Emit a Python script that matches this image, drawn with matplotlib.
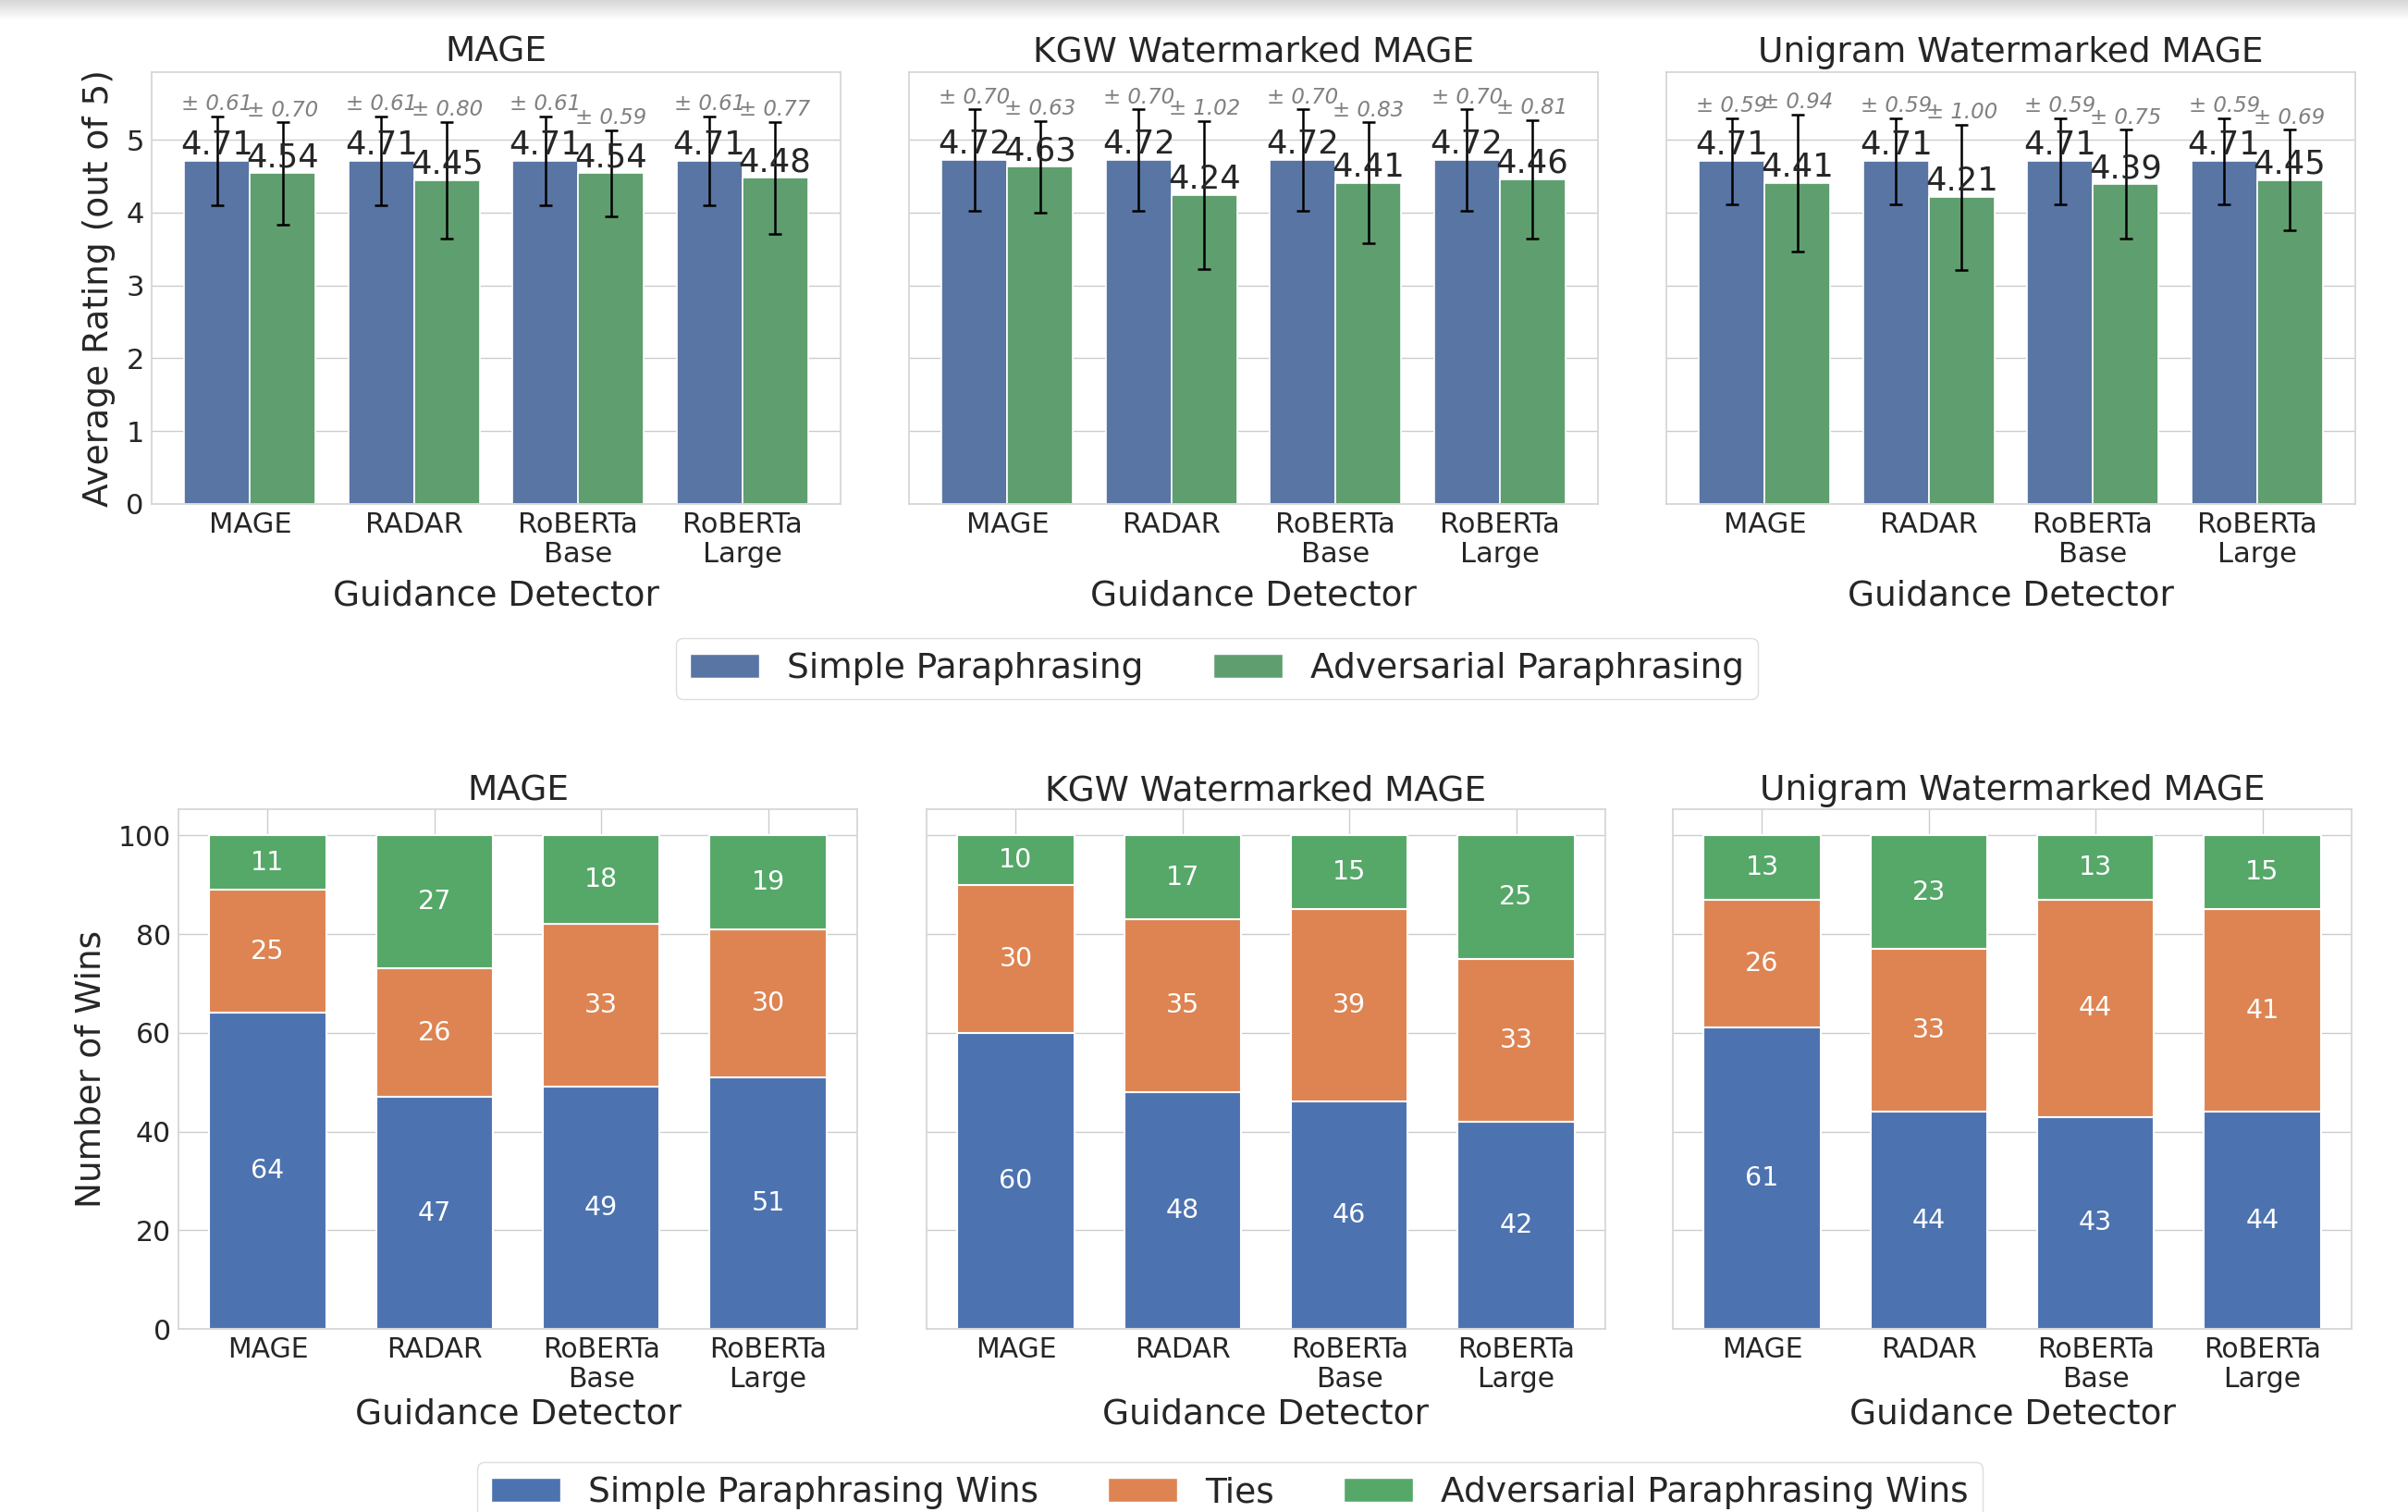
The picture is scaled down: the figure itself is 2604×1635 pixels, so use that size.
import numpy as np
import matplotlib
matplotlib.use("Agg")
import matplotlib.pyplot as plt
import seaborn as sns
from matplotlib.patches import Patch

sns.set_theme(style="whitegrid")
plt.rcParams['font.family'] = ['DejaVu Sans']

# ---------------- data ----------------
detectors = ["MAGE", "RADAR", "RoBERTa\nBase", "RoBERTa\nLarge"]
datasets = ["MAGE", "KGW Watermarked MAGE", "Unigram Watermarked MAGE"]

simple_mean = [[4.71, 4.71, 4.71, 4.71],
               [4.72, 4.72, 4.72, 4.72],
               [4.71, 4.71, 4.71, 4.71]]
simple_std = [[0.61, 0.61, 0.61, 0.61],
              [0.70, 0.70, 0.70, 0.70],
              [0.59, 0.59, 0.59, 0.59]]
adv_mean = [[4.54, 4.45, 4.54, 4.48],
            [4.63, 4.24, 4.41, 4.46],
            [4.41, 4.21, 4.39, 4.45]]
adv_std = [[0.70, 0.80, 0.59, 0.77],
           [0.63, 1.02, 0.83, 0.81],
           [0.94, 1.00, 0.75, 0.69]]

simple_wins = [[64, 47, 49, 51],
               [60, 48, 46, 42],
               [61, 44, 43, 44]]
ties = [[25, 26, 33, 30],
        [30, 35, 39, 33],
        [26, 33, 44, 41]]
adv_wins = [[11, 27, 18, 19],
            [10, 17, 15, 25],
            [13, 23, 13, 15]]

# ---------------- style ----------------
C_SIMPLE = "#5975A4"
C_ADV = "#5F9E6E"
C_B = "#4C72B0"
C_O = "#DD8452"
C_G = "#55A868"
TXT = "#262626"

W, H = 2604, 1635
fig = plt.figure(figsize=(W / 100, H / 100), dpi=100)


def px_axes(l, r, t, b):
    return fig.add_axes([l / W, 1 - b / H, (r - l) / W, (b - t) / H])


# top shadow of screenshot
sh = fig.add_axes([0, 1 - 22 / H, 1, 22 / H])
grad = np.linspace(0.84, 1.0, 50)[:, None] * np.ones((50, 10))
sh.imshow(grad, cmap="gray", vmin=0, vmax=1, aspect="auto", extent=[0, 1, 0, 1])
sh.axis("off")

top_lefts = [164, 983, 1802]
top_w = 745
bot_lefts = [193, 1002, 1809]
bot_w = 734

x = np.arange(len(detectors))
bw = 0.4

for k in range(3):
    ax = px_axes(top_lefts[k], top_lefts[k] + top_w, 78, 545)
    ax.bar(x - bw / 2, simple_mean[k], bw, color=C_SIMPLE, edgecolor="white", linewidth=1.2,
           yerr=simple_std[k], capsize=5, error_kw=dict(ecolor="black", elinewidth=1.8, capthick=1.8))
    ax.bar(x + bw / 2, adv_mean[k], bw, color=C_ADV, edgecolor="white", linewidth=1.2,
           yerr=adv_std[k], capsize=5, error_kw=dict(ecolor="black", elinewidth=1.8, capthick=1.8))
    for xi, m, s in zip(x - bw / 2, simple_mean[k], simple_std[k]):
        ax.text(xi, m, f"{m:.2f}", ha="center", va="bottom", fontsize=25.5, color=TXT)
        ax.text(xi, m + s + 0.02, f"± {s:.2f}", ha="center", va="bottom", fontsize=16.5,
                color="gray", style="italic")
    for xi, m, s in zip(x + bw / 2, adv_mean[k], adv_std[k]):
        ax.text(xi, m, f"{m:.2f}", ha="center", va="bottom", fontsize=25.5, color=TXT)
        ax.text(xi, m + s + 0.02, f"± {s:.2f}", ha="center", va="bottom", fontsize=16.5,
                color="gray", style="italic")
    ax.set_ylim(0, 5.93)
    ax.set_xlim(-0.6, 3.6)
    ax.set_yticks([0, 1, 2, 3, 4, 5])
    ax.set_xticks(x)
    ax.set_xticklabels(detectors, fontsize=22, color=TXT, linespacing=1.1)
    ax.xaxis.grid(False)
    ax.tick_params(axis="both", length=0, pad=6, labelsize=22, colors=TXT)
    if k == 0:
        ax.set_ylabel("Average Rating (out of 5)", fontsize=27, color=TXT, labelpad=8)
    else:
        ax.set_yticklabels([])
    ax.set_xlabel("Guidance Detector", fontsize=27, color=TXT, labelpad=9)
    ax.set_title(datasets[k], fontsize=27, color=TXT, pad=8)
    for sp in ax.spines.values():
        sp.set_color("#d5d5d5")
    ax.set_axisbelow(True)

fig.legend(handles=[Patch(facecolor=C_SIMPLE, edgecolor="white", label="Simple Paraphrasing"),
                    Patch(facecolor=C_ADV, edgecolor="white", label="Adversarial Paraphrasing")],
           loc="center", bbox_to_anchor=(1316 / W, 1 - 723 / H), ncol=2, fontsize=27,
           frameon=True, edgecolor="#d5d5d5", labelcolor=TXT)

bw2 = 0.7
for k in range(3):
    ax = px_axes(bot_lefts[k], bot_lefts[k] + bot_w, 875, 1437)
    s = np.array(simple_wins[k])
    t = np.array(ties[k])
    a = np.array(adv_wins[k])
    ax.bar(x, s, bw2, color=C_B, edgecolor="white", linewidth=1.5)
    ax.bar(x, t, bw2, bottom=s, color=C_O, edgecolor="white", linewidth=1.5)
    ax.bar(x, a, bw2, bottom=s + t, color=C_G, edgecolor="white", linewidth=1.5)
    for xi in x:
        ax.text(xi, s[xi] / 2, f"{s[xi]}", ha="center", va="center", color="white", fontsize=20.5)
        ax.text(xi, s[xi] + t[xi] / 2, f"{t[xi]}", ha="center", va="center", color="white", fontsize=20.5)
        ax.text(xi, s[xi] + t[xi] + a[xi] / 2, f"{a[xi]}", ha="center", va="center", color="white", fontsize=20.5)
    ax.set_ylim(0, 105.3)
    ax.set_xlim(-0.535, 3.535)
    ax.set_yticks([0, 20, 40, 60, 80, 100])
    ax.set_xticks(x)
    ax.set_xticklabels(detectors, fontsize=21.5, color=TXT, linespacing=1.1)
    ax.tick_params(axis="both", length=0, pad=6, labelsize=21.5, colors=TXT)
    if k == 0:
        ax.set_ylabel("Number of Wins", fontsize=27, color=TXT, labelpad=8)
    else:
        ax.set_yticklabels([])
    ax.set_xlabel("Guidance Detector", fontsize=27, color=TXT, labelpad=4)
    ax.set_title(datasets[k], fontsize=27, color=TXT, pad=7)
    for sp in ax.spines.values():
        sp.set_color("#d5d5d5")
    ax.set_axisbelow(True)

fig.legend(handles=[Patch(facecolor=C_B, edgecolor="white", label="Simple Paraphrasing Wins"),
                    Patch(facecolor=C_O, edgecolor="white", label="Ties"),
                    Patch(facecolor=C_G, edgecolor="white", label="Adversarial Paraphrasing Wins")],
           loc="upper center", bbox_to_anchor=(1330 / W, 1 - 1581 / H), ncol=3, fontsize=27,
           frameon=True, edgecolor="#d5d5d5", labelcolor=TXT, borderaxespad=0)

fig.savefig("out.png", dpi=100)
